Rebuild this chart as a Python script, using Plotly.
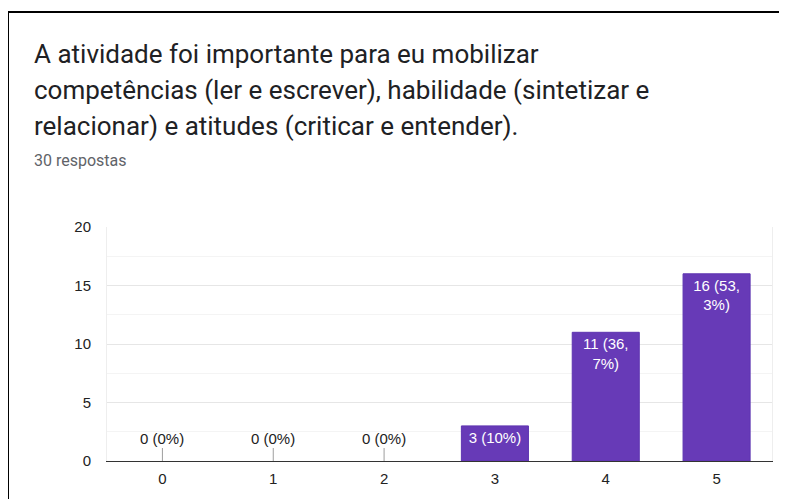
import plotly.graph_objects as go

categories = ["0", "1", "2", "3", "4", "5"]
counts = [0, 0, 0, 3, 11, 16]
total_responses = 30
title_lines = [
    "A atividade foi importante para eu mobilizar",
    "competências (ler e escrever), habilidade (sintetizar e",
    "relacionar) e atitudes (criticar e entender).",
]
subtitle = "30 respostas"
y_ticks = [0, 5, 10, 15, 20]

OFF = 8  # page body margin
W, H = 787 - OFF, 499 - OFF
L, R, T, B = 107 - OFF, 772 - OFF, 227 - OFF, 461 - OFF  # plot area in figure pixels


def px_x(px):
    return (px - OFF - L) / (R - L)


def px_y(py):
    return (B - (py - OFF)) / (B - T)


def label(v):
    pct = v / total_responses * 100
    s = f"{pct:.1f}".replace(".", ",")
    if s.endswith(",0"):
        s = s[:-2]
    txt = f"{v} ({s}%)"
    if "," in txt:
        a, b = txt.split(",", 1)
        txt = a + ",<br>" + b
    return txt


bar_text = [label(v) if v > 0 else "" for v in counts]
FONT = "Arial, Liberation Sans"

fig = go.Figure()
fig.add_trace(go.Bar(
    x=categories, y=counts, text=bar_text,
    textposition="inside", insidetextanchor="end", textangle=0,
    textfont=dict(family=FONT, size=15, color="white"),
    marker=dict(color="#673ab7",
                line=dict(color="#5e35b1", width=[1 if v > 0 else 0 for v in counts])),
    hoverinfo="skip",
))

annotations = []
for c, v in zip(categories, counts):
    if v == 0:
        annotations.append(dict(
            x=c, y=0, xref="x", yref="y", text=label(v),
            showarrow=True, arrowhead=0, arrowwidth=1, arrowcolor="#9e9e9e",
            ax=0, ay=-23, standoff=0,
            font=dict(family=FONT, size=15, color="#222222"),
        ))

title_centers = [53.5, 89.5, 125.5]
for line, cy in zip(title_lines, title_centers):
    annotations.append(dict(
        x=px_x(32), y=px_y(cy), xref="paper", yref="paper",
        xanchor="left", yanchor="middle", showarrow=False, text=line,
        font=dict(family="Roboto", size=26, color="#202124"),
    ))
annotations.append(dict(
    x=px_x(32), y=px_y(161), xref="paper", yref="paper",
    xanchor="left", yanchor="middle", showarrow=False, text=subtitle,
    font=dict(family="Roboto", size=16, color="#5f6368"),
))

fig.update_layout(
    width=W, height=H,
    margin=dict(l=L, r=W - R, t=T, b=H - B, autoexpand=False),
    paper_bgcolor="white", plot_bgcolor="white",
    showlegend=False, bargap=0.395,
    annotations=annotations,
    shapes=[dict(
        type="rect", xref="paper", yref="paper",
        x0=px_x(8), x1=px_x(785.5), y0=px_y(540), y1=px_y(12),
        line=dict(color="black", width=2), fillcolor="rgba(0,0,0,0)",
        layer="above",
    )],
)
fig.update_xaxes(
    type="category", showgrid=False, showline=True, linecolor="#333333",
    linewidth=1, ticks="", ticklabelstandoff=4,
    tickfont=dict(family=FONT, size=15, color="#222222"),
    zeroline=False, fixedrange=True,
)
fig.update_yaxes(
    range=[0, 20], tickvals=y_ticks, showgrid=True, gridcolor="#e6e6e6",
    gridwidth=1, zeroline=False, showline=True, mirror=True,
    linecolor="#eeeeee", linewidth=1, ticks="", ticklabelstandoff=12,
    minor=dict(tickvals=[2.5, 7.5, 12.5, 17.5], showgrid=True, gridcolor="#f4f4f4"),
    tickfont=dict(family=FONT, size=15, color="#222222"),
    fixedrange=True,
)

fig.write_html("out.html")
